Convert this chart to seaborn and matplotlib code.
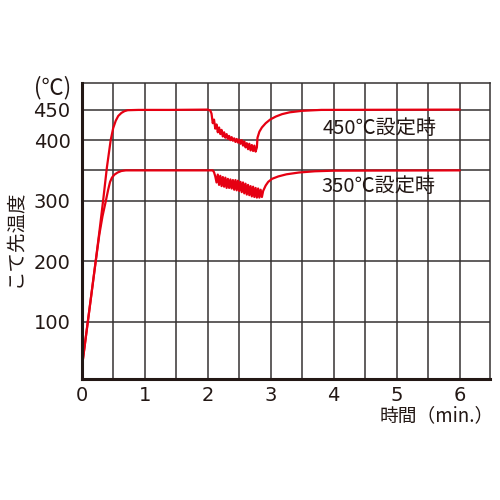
import matplotlib
matplotlib.use("Agg")
import matplotlib.pyplot as plt
import seaborn as sns

# ── data ──────────────────────────────────────────────────────────────────────

time_450 = [
    0.00, 0.05, 0.10, 0.16, 0.22, 0.28, 0.34, 0.40, 0.46, 0.50, 0.54, 0.58,
    0.63, 0.68, 0.73, 0.90, 1.40, 2.00, 2.04,
    2.06, 2.08, 2.10, 2.12, 2.14, 2.16, 2.18, 2.20, 2.22, 2.24, 2.26, 2.28,
    2.30, 2.32, 2.34, 2.36, 2.38, 2.40, 2.42, 2.44, 2.46, 2.48, 2.50, 2.52,
    2.54, 2.56, 2.58, 2.60, 2.62, 2.64, 2.66, 2.68, 2.70, 2.72, 2.74, 2.76,
    2.78, 2.79, 2.82, 2.86, 2.92, 2.99, 3.08, 3.18, 3.30, 3.50, 3.80, 6.00,
]
temp_450 = [
    22, 62, 102, 150, 198, 248, 300, 355, 400, 420, 432, 440,
    445, 448, 449.5, 450, 450, 450.5, 449,
    444, 428, 434, 419, 426, 413, 421, 410, 417, 406, 413, 404,
    410, 402, 407, 400, 405, 399, 403, 397, 402, 396, 401, 394,
    400, 391, 398, 388, 395, 385, 394, 383, 392, 382, 391, 381,
    388, 404, 414, 421, 428, 434, 439, 443, 446, 448.5, 450, 450.5,
]

time_350 = [
    0.00, 0.05, 0.10, 0.16, 0.22, 0.28, 0.33, 0.38, 0.42, 0.45, 0.48, 0.52,
    0.57, 0.63, 0.70, 1.40, 2.08, 2.10, 2.12,
    2.14, 2.16, 2.18, 2.20, 2.22, 2.24, 2.26, 2.28, 2.30, 2.32, 2.34, 2.36,
    2.38, 2.40, 2.42, 2.44, 2.46, 2.48, 2.50, 2.52, 2.54, 2.56, 2.58, 2.60,
    2.62, 2.64, 2.66, 2.68, 2.70, 2.72, 2.74, 2.76, 2.78, 2.80, 2.82, 2.84,
    2.86,
    2.88, 2.92, 2.96, 3.02, 3.12, 3.25, 3.45, 3.70, 4.00, 6.00,
]
temp_350 = [
    22, 62, 102, 150, 198, 244, 274, 298, 318, 331, 338, 343,
    346.5, 349, 350, 350, 350, 347, 340,
    330, 343, 326, 341, 324, 339, 323, 338, 321, 336, 321, 335,
    320, 334, 318, 334, 317, 333, 316, 331, 314, 330, 312, 328,
    310, 326, 309, 324, 307, 323, 306, 321, 305, 320, 305, 318,
    306,
    316, 325, 331, 336, 340, 343.5, 346.5, 348.5, 349.5, 350,
]

x_ticks = [0, 0.5, 1, 1.5, 2, 2.5, 3, 3.5, 4, 4.5, 5, 5.5, 6]
x_labels = ["0", "", "1", "", "2", "", "3", "", "4", "", "5", "", "6"]
y_ticks = [100, 200, 300, 350, 400, 450]
y_labels = ["100", "200", "300", "", "400", "450"]

RED = "#e60012"
INK = "#231815"
GRID = "#353131"

# ── style ─────────────────────────────────────────────────────────────────────

sns.set_theme(style="white")
plt.rcParams["font.family"] = ["Noto Sans CJK JP", "DejaVu Sans"]

fig = plt.figure(figsize=(5, 5), dpi=100)
ax = fig.add_axes([0.1634, 0.242, 0.8166, 0.5914])

sns.lineplot(x=time_450, y=temp_450, color=RED, lw=1.6, ax=ax,
             estimator=None, sort=False, zorder=3)
sns.lineplot(x=time_350, y=temp_350, color=RED, lw=1.6, ax=ax,
             estimator=None, sort=False, zorder=3)

ax.set_xlim(0, 6.48)
ax.set_ylim(5, 494)
ax.set_xticks(x_ticks)
ax.set_xticklabels(x_labels, family="DejaVu Sans")
ax.set_yticks(y_ticks)
ax.set_yticklabels(y_labels, family="DejaVu Sans")
ax.tick_params(length=0, labelsize=14, colors=INK)
ax.tick_params(axis="y", pad=8)
ax.tick_params(axis="x", pad=5)

ax.grid(True, color=GRID, lw=1.1)
for side in ["top", "right"]:
    ax.spines[side].set_color(GRID)
    ax.spines[side].set_linewidth(1.1)
for side in ["left", "bottom"]:
    ax.spines[side].set_color(INK)
    ax.spines[side].set_linewidth(2.2)
    ax.spines[side].set_zorder(4)

ax.set_xlabel("")
ax.set_ylabel("")

# axis titles
fig.text(0.03, 0.524, "こて先温度", rotation=90, ha="center", va="center",
         fontsize=14, color=INK)
fig.text(0.142, 0.824, "(℃)", ha="right", va="center", fontsize=16, color=INK)
fig.text(0.988, 0.168, "時間（min.）", ha="right", va="center",
         fontsize=13.5, color=INK)

# curve annotations
ax.text(3.83, 420, "450℃設定時", ha="left", va="center", fontsize=14.5,
        color=INK, zorder=5)
ax.text(3.81, 323, "350℃設定時", ha="left", va="center", fontsize=14.5,
        color=INK, zorder=5)

fig.savefig("out.png", dpi=100, facecolor="white")
